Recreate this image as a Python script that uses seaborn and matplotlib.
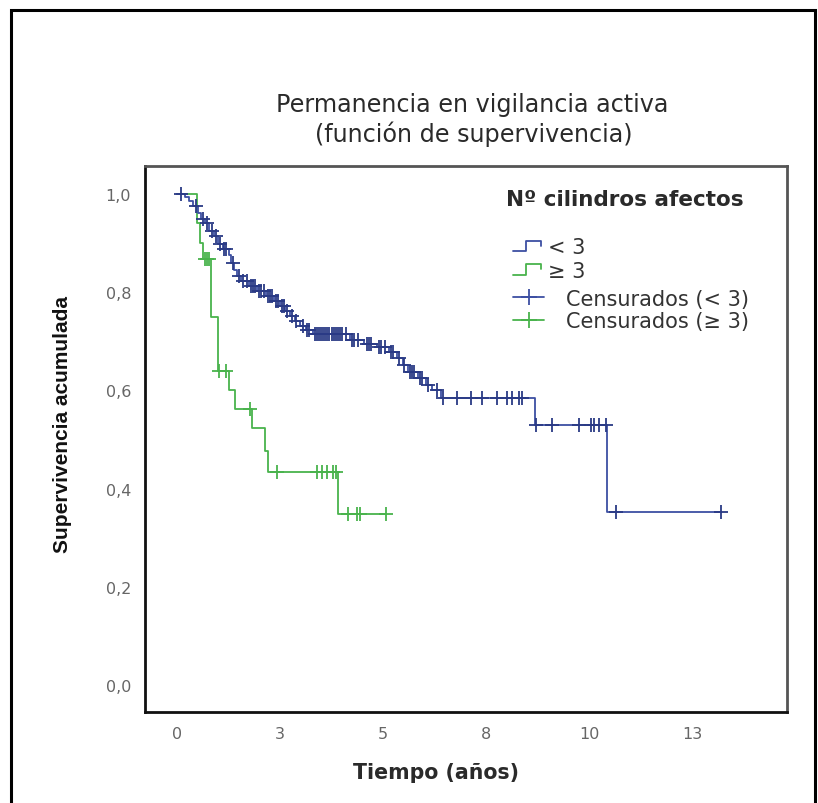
import numpy as np
import pandas as pd
import matplotlib
matplotlib.use("Agg")
import matplotlib.pyplot as plt
import seaborn as sns
from matplotlib.lines import Line2D
from matplotlib.patches import Rectangle
from matplotlib.legend_handler import HandlerBase

# ---------------- data ----------------
# Kaplan-Meier step change points: group "< 3"
blue_times = [0.0, 0.20, 0.30, 0.40, 0.50, 0.58, 0.68, 0.78, 0.90, 1.00, 1.12, 1.25, 1.32,
              1.38, 1.45, 1.55, 1.75, 1.95, 2.15, 2.35, 2.50, 2.62, 2.74, 2.86, 2.98, 3.12,
              3.30, 4.20, 4.55, 4.85, 5.15, 5.35, 5.48, 5.60, 5.85, 6.05, 6.20, 6.40, 8.68,
              10.44]
blue_surv = [1.0, 0.993, 0.985, 0.975, 0.962, 0.950, 0.940, 0.925, 0.915, 0.898, 0.888,
             0.876, 0.860, 0.845, 0.832, 0.822, 0.813, 0.803, 0.793, 0.782, 0.772, 0.762,
             0.752, 0.742, 0.731, 0.722, 0.715, 0.703, 0.695, 0.688, 0.679, 0.667, 0.652,
             0.638, 0.625, 0.612, 0.600, 0.584, 0.530, 0.353]
blue_end = 13.2
blue_cens = [0.1, 0.45, 0.62, 0.72, 0.85, 0.95, 1.05, 1.15, 1.2, 1.35, 1.5, 1.6, 1.7, 1.8,
             1.85, 1.9, 2.0, 2.05, 2.1, 2.2, 2.25, 2.3, 2.4, 2.45, 2.55, 2.6, 2.68, 2.8, 2.9,
             3.05, 3.15, 3.2, 3.35, 3.4, 3.45, 3.5, 3.55, 3.6, 3.65, 3.7, 3.75, 3.8, 3.85,
             3.9, 3.95, 4.0, 4.1, 4.25, 4.3, 4.4, 4.6, 4.65, 4.7, 4.9, 4.95, 5.05, 5.2, 5.25,
             5.4, 5.5, 5.65, 5.7, 5.75, 5.9, 5.95, 6.1, 6.3, 6.45, 6.8, 7.14, 7.41, 7.77,
             8.01, 8.14, 8.31, 8.38, 8.72, 9.1, 9.76, 10.05, 10.12, 10.24, 10.41, 10.65, 13.2]

# group ">= 3"
green_times = [0.0, 0.48, 0.55, 0.62, 0.82, 0.99, 1.26, 1.40, 1.82, 2.13, 2.20, 3.90]
green_surv = [1.0, 0.94, 0.90, 0.868, 0.75, 0.64, 0.60, 0.562, 0.523, 0.477, 0.434, 0.348]
green_end = 5.08
green_cens = [0.68, 0.72, 0.78, 1.02, 1.19, 1.77, 2.42, 3.39, 3.51, 3.63, 3.78, 3.87,
              4.14, 4.36, 4.43, 5.08]

x_ticks = [0, 2.5, 5, 7.5, 10, 12.5]
x_ticklabels = ["0", "3", "5", "8", "10", "13"]
y_ticks = [0.0, 0.2, 0.4, 0.6, 0.8, 1.0]
y_ticklabels = ["0,0", "0,2", "0,4", "0,6", "0,8", "1,0"]

group_labels = ["< 3", "\u2265 3"]
cens_labels = ["Censurados (< 3)", "Censurados (\u2265 3)"]

BLUE = "#3d4fa3"
BLUE_DARK = "#2a3a85"
GREEN = "#49b34c"

# ---------------- figure ----------------
sns.set_style("white")
plt.rcParams["font.family"] = ["DejaVu Sans"]

W, H = 818, 804
fig = plt.figure(figsize=(W / 100, H / 100), dpi=100)
fig.patch.set_facecolor("white")
L, R, T, B = 145, 787, 167, 713
ax = fig.add_axes([L / W, 1 - B / H, (R - L) / W, (B - T) / H])


def step_frame(times, surv, end):
    t = list(times) + [end]
    s = list(surv) + [surv[-1]]
    return pd.DataFrame({"t": t, "s": s})


def cens_frame(times, surv, cens):
    idx = np.searchsorted(np.array(times), np.array(cens), side="right") - 1
    return pd.DataFrame({"t": cens, "s": np.array(surv)[idx]})


df_b = step_frame(blue_times, blue_surv, blue_end)
df_g = step_frame(green_times, green_surv, green_end)
cb = cens_frame(blue_times, blue_surv, blue_cens)
cg = cens_frame(green_times, green_surv, green_cens)

sns.lineplot(data=df_g, x="t", y="s", ax=ax, estimator=None, sort=False,
             drawstyle="steps-post", color=GREEN, lw=1.3)
sns.lineplot(data=df_b, x="t", y="s", ax=ax, estimator=None, sort=False,
             drawstyle="steps-post", color=BLUE, lw=1.3)
ax.scatter(cg["t"], cg["s"], marker="+", s=110, color=GREEN, linewidths=1.3, zorder=3)
ax.scatter(cb["t"], cb["s"], marker="+", s=110, color=BLUE_DARK, linewidths=1.3, zorder=3)

px_per_year = 103 / 2.5
x0px = 177
ax.set_xlim((L - x0px) / px_per_year, (R - x0px) / px_per_year)
px_per_unit = 491
y0px = 686
ax.set_ylim((y0px - B) / px_per_unit, (y0px - T) / px_per_unit)

ax.set_xticks(x_ticks)
ax.set_xticklabels(x_ticklabels)
ax.set_yticks(y_ticks)
ax.set_yticklabels(y_ticklabels)
ax.tick_params(axis="both", direction="out", length=8, width=1.6, color="#222",
               labelcolor="#666", labelsize=11.5, pad=2)
ax.set_xlabel("")
ax.set_ylabel("")

for side in ["left", "bottom"]:
    ax.spines[side].set_color("#111")
    ax.spines[side].set_linewidth(2.0)
for side in ["top", "right"]:
    ax.spines[side].set_color("#555")
    ax.spines[side].set_linewidth(2.0)
    ax.spines[side].set_visible(True)

# titles and axis labels
fig.text(472 / W, 1 - 105 / H, "Permanencia en vigilancia activa", ha="center", va="center",
         fontsize=17.2, color="#2a2a2a")
fig.text(474 / W, 1 - 134 / H, "(función de supervivencia)", ha="center", va="center",
         fontsize=17.2, color="#2a2a2a")
fig.text(436 / W, 1 - 773 / H, "Tiempo (años)", ha="center", va="center",
         fontsize=14.8, weight="bold", color="#2a2a2a")
fig.text(62 / W, 1 - 425 / H, "Supervivencia acumulada", ha="center", va="center",
         rotation=90, fontsize=15, family="Liberation Sans", weight="bold", color="#111")

# legend
fig.text(506 / W, 1 - 200 / H, "Nº cilindros afectos", ha="left", va="center",
         fontsize=15.5, weight="bold", color="#2a2a2a")


class StepHandler(HandlerBase):
    def create_artists(self, legend, orig_handle, xdescent, ydescent, width, height,
                       fontsize, trans):
        x0, y0 = -xdescent, -ydescent
        xs = [x0, x0 + 0.45 * width, x0 + 0.45 * width, x0 + 0.97 * width, x0 + 0.97 * width]
        ys = [y0 + 0.15 * height, y0 + 0.15 * height, y0 + 0.85 * height,
              y0 + 0.85 * height, y0 + 0.5 * height]
        ln = Line2D(xs, ys, color=orig_handle.get_color(), lw=orig_handle.get_linewidth())
        ln.set_transform(trans)
        return [ln]


h1 = Line2D([], [], color=BLUE, lw=1.3)
h2 = Line2D([], [], color=GREEN, lw=1.3)
h3 = Line2D([], [], color=BLUE, lw=1.3, marker="+", markersize=11, markeredgewidth=1.3)
h4 = Line2D([], [], color=GREEN, lw=1.3, marker="+", markersize=11, markeredgewidth=1.3)

fs = 15
leg1 = ax.legend([h1, h2], group_labels, handler_map={h1: StepHandler(), h2: StepHandler()},
                 loc="center left", bbox_to_anchor=(513 / W, 1 - 260 / H),
                 bbox_transform=fig.transFigure, frameon=False, fontsize=fs,
                 handlelength=1.4, handletextpad=0.3, labelspacing=0.17,
                 borderpad=0, borderaxespad=0)
for t in leg1.get_texts():
    t.set_color("#333")
ax.add_artist(leg1)
leg2 = ax.legend([h3, h4], cens_labels, loc="center left",
                 bbox_to_anchor=(513 / W, 1 - 311 / H), bbox_transform=fig.transFigure,
                 frameon=False, fontsize=fs, handlelength=1.5, handletextpad=1.05,
                 labelspacing=0.12, borderpad=0, borderaxespad=0)
for t in leg2.get_texts():
    t.set_color("#333")

# outer frame of the picture
fig.add_artist(Rectangle((11 / W, -0.05), (815 - 11) / W, 1 - 11 / H + 0.05,
                         transform=fig.transFigure, fill=False, lw=2.2, ec="black",
                         clip_on=False))

fig.savefig("out.png", dpi=100, facecolor="white")
